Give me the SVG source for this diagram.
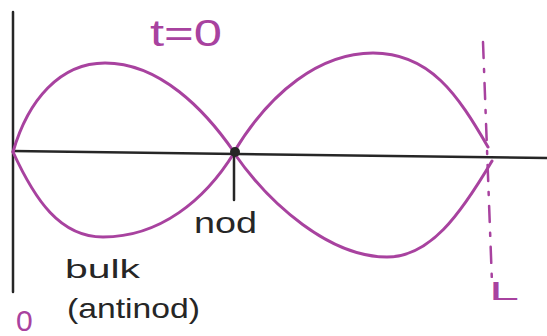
<svg xmlns="http://www.w3.org/2000/svg" width="547" height="336" viewBox="0 0 547 336">
<style>
.ax{stroke:#262626;stroke-width:2.5;fill:none;stroke-linecap:round}
.wave{stroke:#a8429f;stroke-width:3;fill:none;stroke-linecap:round}
.dash{stroke:#a8429f;stroke-width:2.5;fill:none;stroke-dasharray:16 11 3 11;stroke-linecap:round}
.pk{fill:#a8429f;font-family:'Liberation Sans',Arial,sans-serif}
.bk{fill:#262626;font-family:'Liberation Sans',Arial,sans-serif}
</style>
<rect width="547" height="336" fill="#ffffff"/>
<g id="axes">
<line class="ax" x1="13" y1="12" x2="13" y2="292"/>
<line class="ax" x1="13" y1="151" x2="547" y2="158"/>
</g>
<g id="connectors">
<path class="wave" d="M13,152 C28,100 60,63 105,63 C160,63 205,110 234,152"/>
<path class="wave" d="M234,152 C270,92 320,53 373,53 C430,53 458,95 488,147"/>
<path class="wave" d="M13,152 C35,200 60,237 103,237 C160,237 205,200 234,153"/>
<path class="wave" d="M234,153 C270,205 330,257 387,257 C430,257 460,215 492,161"/>
<line class="dash" x1="483" y1="42" x2="492" y2="283"/>
<line class="ax" x1="234" y1="153" x2="234" y2="200"/>
</g>
<g id="node">
<circle cx="235" cy="152" r="5" fill="#262626"/>
<text class="bk" x="194" y="233" font-size="29" textLength="63" lengthAdjust="spacingAndGlyphs">nod</text>
</g>
<g id="antinode">
<text class="bk" x="65" y="278" font-size="25" textLength="75" lengthAdjust="spacingAndGlyphs">bulk</text>
<text class="bk" x="67" y="318" font-size="28" textLength="133" lengthAdjust="spacingAndGlyphs">(antinod)</text>
</g>
<g id="time">
<text class="pk" x="150" y="46" font-size="36" textLength="72" lengthAdjust="spacingAndGlyphs">t=0</text>
</g>
<g id="origin">
<text class="pk" x="16" y="331" font-size="30">0</text>
</g>
<g id="end">
<text class="pk" x="489" y="300" font-size="26" textLength="30" lengthAdjust="spacingAndGlyphs">L</text>
</g>
</svg>
